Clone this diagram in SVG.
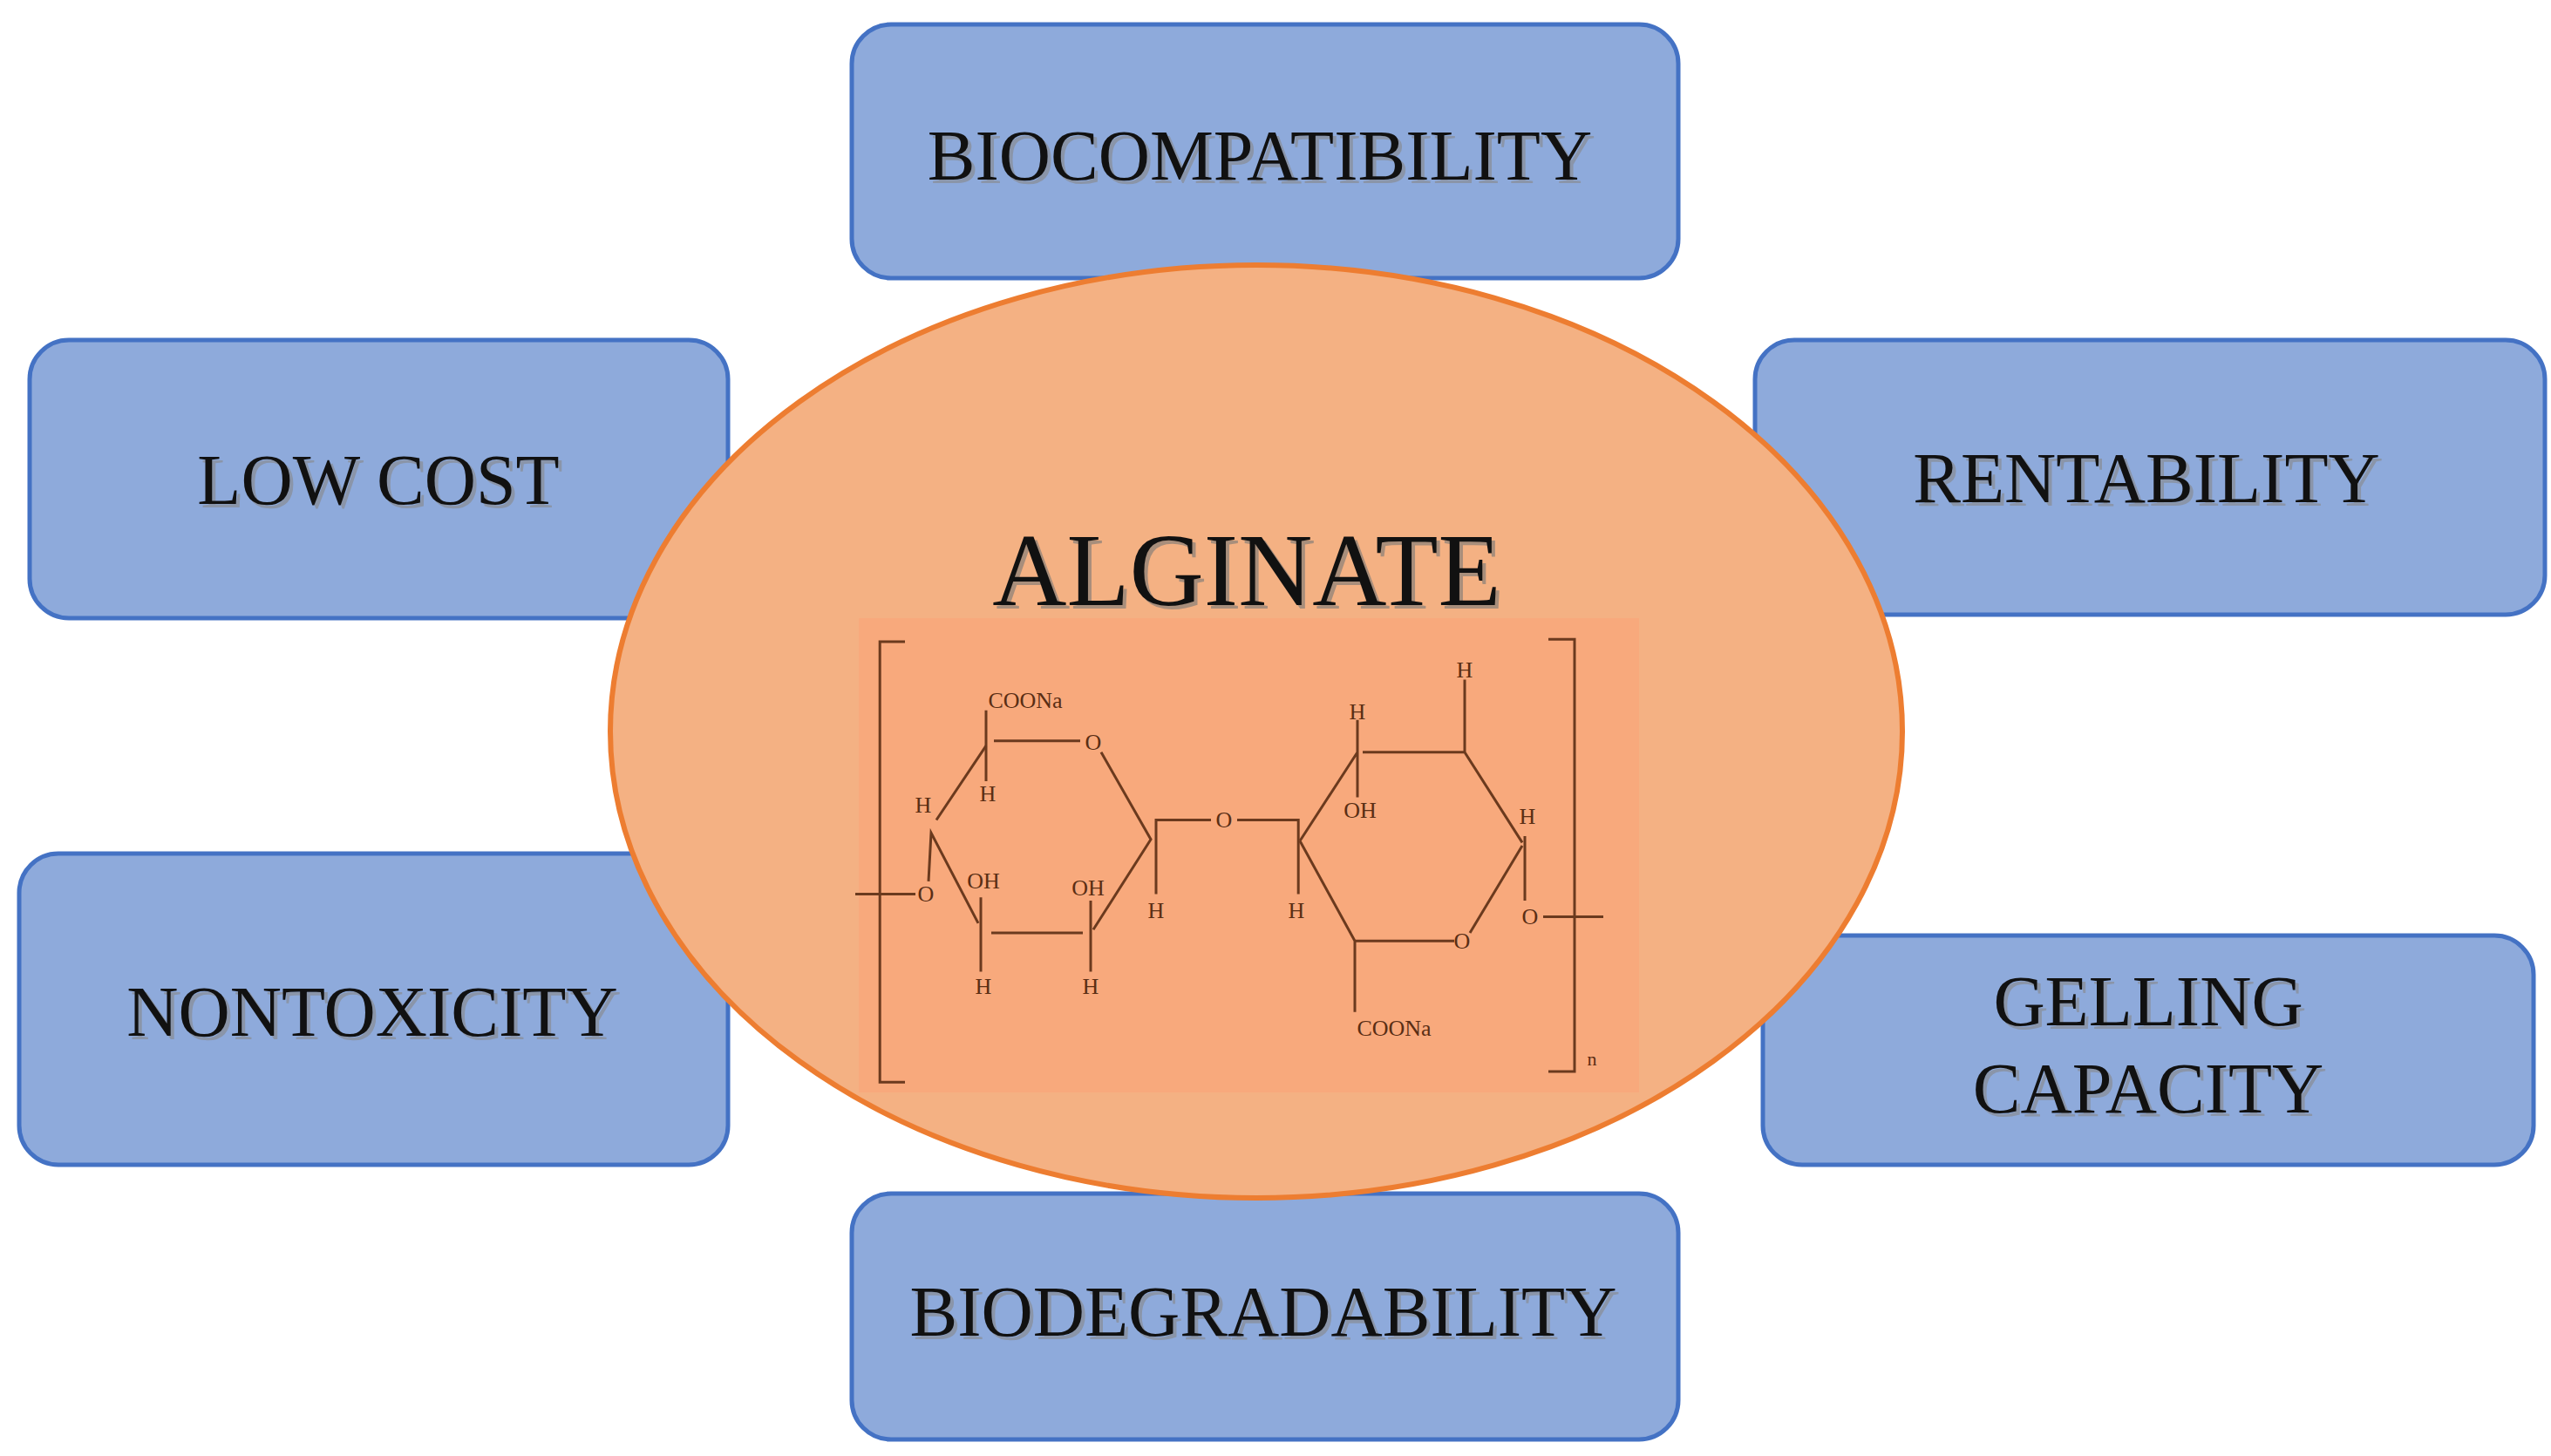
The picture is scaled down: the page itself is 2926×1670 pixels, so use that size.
<svg xmlns="http://www.w3.org/2000/svg" width="2926" height="1670" viewBox="0 0 2926 1670">
<style>
.box{fill:#8eaadb;stroke:#4472c4;stroke-width:5}
.lbl{font-family:"Liberation Serif",serif;font-size:82px;fill:#111;text-anchor:middle}
.sh{fill:#888;opacity:0.6}
.ch{font-family:"Liberation Serif",serif;font-size:26px;fill:#5a2e14;text-anchor:middle}
.bond{stroke:#6b3a1e;stroke-width:3;fill:none}
</style>
<rect width="2926" height="1670" fill="#fff"/>
<g id="biocompatibility"><rect class="box" x="977" y="28" width="948" height="291" rx="45"/><text class="lbl sh" x="1449" y="210">BIOCOMPATIBILITY</text><text class="lbl" x="1445" y="206">BIOCOMPATIBILITY</text></g>
<g id="lowcost"><rect class="box" x="34" y="390" width="801" height="319" rx="45"/><text class="lbl sh" x="438" y="582">LOW COST</text><text class="lbl" x="434" y="578">LOW COST</text></g>
<g id="rentability"><rect class="box" x="2013" y="390" width="906" height="315" rx="45"/><text class="lbl sh" x="2466" y="580">RENTABILITY</text><text class="lbl" x="2462" y="576">RENTABILITY</text></g>
<g id="nontoxicity"><rect class="box" x="22" y="979" width="813" height="357" rx="45"/><text class="lbl sh" x="431" y="1192">NONTOXICITY</text><text class="lbl" x="427" y="1188">NONTOXICITY</text></g>
<g id="gelling"><rect class="box" x="2022" y="1073" width="884" height="263" rx="45"/><text class="lbl sh" x="2468" y="1180">GELLING</text><text class="lbl" x="2464" y="1176">GELLING</text><text class="lbl sh" x="2468" y="1280">CAPACITY</text><text class="lbl" x="2464" y="1276">CAPACITY</text></g>
<g id="biodegradability"><rect class="box" x="977" y="1369" width="948" height="282" rx="45"/><text class="lbl sh" x="1453" y="1536">BIODEGRADABILITY</text><text class="lbl" x="1449" y="1532">BIODEGRADABILITY</text></g>
<g id="alginate">
<ellipse cx="1441" cy="839" rx="741" ry="535" fill="#f4b183" stroke="#ed7d31" stroke-width="6"/>
<rect x="985" y="709" width="895" height="544" fill="#f8a97c"/>
<text x="1434" y="698" font-family="Liberation Serif,serif" font-size="118" fill="#777" opacity="0.6" text-anchor="middle">ALGINATE</text>
<text x="1430" y="694" font-family="Liberation Serif,serif" font-size="118" fill="#111" text-anchor="middle">ALGINATE</text>
<g transform="translate(960,700) scale(0.6,0.37)">
<g class="bond" style="vector-effect:non-scaling-stroke">
<path vector-effect="non-scaling-stroke" d="M130,97 H82 V1463 H130"/>
<path vector-effect="non-scaling-stroke" d="M1360,90 H1410 V1430 H1360"/>
<path vector-effect="non-scaling-stroke" d="M35,880 H150"/>
<path vector-effect="non-scaling-stroke" d="M190,650 L285,420 M300,405 H465 M505,440 L600,710 L490,990 M295,1000 H470 M270,970 L180,690 L175,840"/>
<path vector-effect="non-scaling-stroke" d="M285,310 V530 M275,890 V1120 M485,900 V1120"/>
<path vector-effect="non-scaling-stroke" d="M610,880 V650 H715 M765,650 H882 V880"/>
<path vector-effect="non-scaling-stroke" d="M885,715 L995,440 M995,340 V580 M1005,440 H1200 M1200,215 V440 L1310,720 M1315,700 V900 M1350,950 H1465 M1310,730 L1210,1000 M1180,1025 H990 L885,715 M990,1025 V1245"/>
</g>
</g>
<g class="ch">
<text x="1176" y="812">COONa</text>
<text x="1059" y="932">H</text><text x="1133" y="919">H</text>
<text x="1254" y="860">O</text><text x="1062" y="1034">O</text>
<text x="1128" y="1019">OH</text><text x="1248" y="1027">OH</text>
<text x="1128" y="1140">H</text><text x="1251" y="1140">H</text>
<text x="1326" y="1053">H</text><text x="1404" y="949">O</text>
<text x="1487" y="1053">H</text><text x="1557" y="825">H</text>
<text x="1560" y="938">OH</text><text x="1680" y="777">H</text>
<text x="1752" y="945">H</text><text x="1755" y="1060">O</text>
<text x="1677" y="1088">O</text><text x="1599" y="1188">COONa</text>
<text x="1826" y="1222" font-size="22">n</text>
</g>
</g>
</svg>
